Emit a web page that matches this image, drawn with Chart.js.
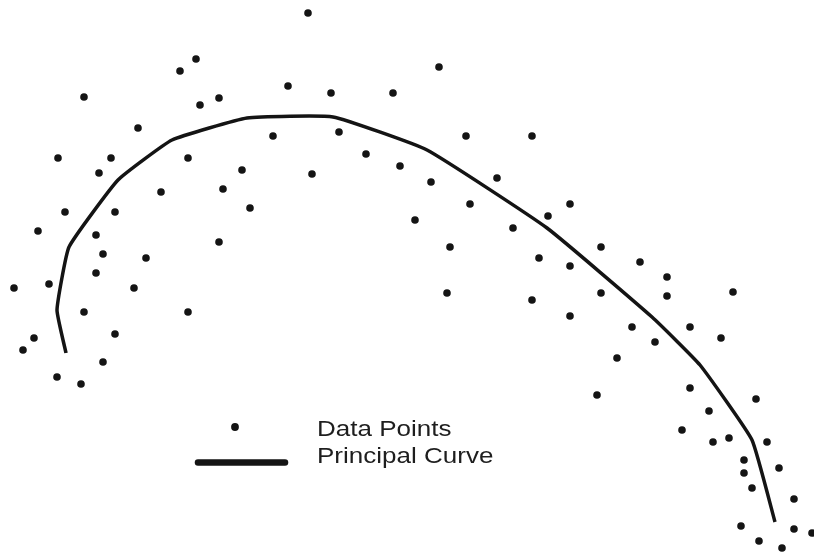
<!DOCTYPE html>
<html>
<head>
<meta charset="utf-8">
<script src="https://cdn.jsdelivr.net/npm/chart.js@4/dist/chart.umd.min.js"></script>
<style>
  html, body { margin: 0; padding: 0; background: #ffffff; }
  #wrap { position: relative; width: 814px; height: 556px; }
</style>
</head>
<body>
<div id="wrap"><canvas id="c" width="814" height="556"></canvas></div>
<script>
const pointX = [308,196,180,439,84,200,219,288,331,393,138,273,339,466,532,58,111,188,99,242,312,366,400,431,223,161,497,65,115,250,415,470,548,570,38,96,219,450,513,103,146,539,601,96,570,640,14,49,134,447,532,601,667,667,733,84,188,570,632,690,34,23,115,655,721,103,617,57,81,690,756,597,709,682,713,729,767,744,744,779,752,794,741,759,782,794,812];
const pointY = [13,59,71,67,97,105,98,86,93,93,128,136,132,136,136,158,158,158,173,170,174,154,166,182,189,192,178,212,212,208,220,204,216,204,231,235,242,247,228,254,258,258,247,273,266,262,288,284,288,293,300,293,277,296,292,312,312,316,327,327,338,350,334,342,338,362,358,377,384,388,399,395,411,430,442,438,442,460,473,468,488,499,526,541,548,529,533];

// Principal curve vertices
const curveX = [66,57,69,118,172,247,333,427,547,652,700,752,775];
const curveY = [353,310,247,180,140,118,117,150,228,317,365,440,522];

const legendLabels = ["Data Points", "Principal Curve"];

const scatterData = pointX.map((x, i) => ({ x: x, y: pointY[i] }));
const curveData = curveX.map((x, i) => ({ x: x, y: curveY[i] }));

const legendPlugin = {
  id: 'customLegend',
  afterDraw(chart) {
    const ctx = chart.ctx;
    const xs = chart.scales.x, ys = chart.scales.y;
    ctx.save();
    // dot symbol
    ctx.fillStyle = '#141414';
    ctx.beginPath();
    ctx.arc(xs.getPixelForValue(235), ys.getPixelForValue(427), 3.9, 0, Math.PI * 2);
    ctx.fill();
    // line symbol
    ctx.strokeStyle = '#141414';
    ctx.lineWidth = 6.5;
    ctx.lineCap = 'round';
    ctx.beginPath();
    ctx.moveTo(xs.getPixelForValue(198), ys.getPixelForValue(462.5));
    ctx.lineTo(xs.getPixelForValue(285), ys.getPixelForValue(462.5));
    ctx.stroke();
    // labels (horizontally stretched like the reference)
    ctx.fillStyle = '#1e1e1e';
    ctx.font = '21.5px "Liberation Sans", Arial, sans-serif';
    ctx.textBaseline = 'alphabetic';
    const sx = 1.21;
    ctx.save();
    ctx.translate(xs.getPixelForValue(317), ys.getPixelForValue(436));
    ctx.scale(sx, 1);
    ctx.fillText(legendLabels[0], 0, 0);
    ctx.restore();
    ctx.save();
    ctx.translate(xs.getPixelForValue(317), ys.getPixelForValue(463));
    ctx.scale(sx, 1);
    ctx.fillText(legendLabels[1], 0, 0);
    ctx.restore();
    ctx.restore();
  }
};

new Chart(document.getElementById('c'), {
  type: 'scatter',
  data: {
    datasets: [
      {
        label: legendLabels[0],
        data: scatterData,
        pointRadius: 3.8,
        pointHoverRadius: 3.8,
        pointBackgroundColor: '#141414',
        pointBorderWidth: 0,
        showLine: false,
        clip: false
      },
      {
        label: legendLabels[1],
        data: curveData,
        showLine: true,
        borderColor: '#141414',
        borderWidth: 3.5,
        pointRadius: 0,
        tension: 0.12,
        fill: false,
        clip: false
      }
    ]
  },
  options: {
    responsive: false,
    animation: false,
    events: [],
    layout: { padding: 0, autoPadding: false },
    plugins: { legend: { display: false }, tooltip: { enabled: false } },
    scales: {
      x: { type: 'linear', min: 0, max: 814, display: false },
      y: { type: 'linear', min: 0, max: 556, reverse: true, display: false }
    }
  },
  plugins: [legendPlugin]
});
</script>
</body>
</html>
